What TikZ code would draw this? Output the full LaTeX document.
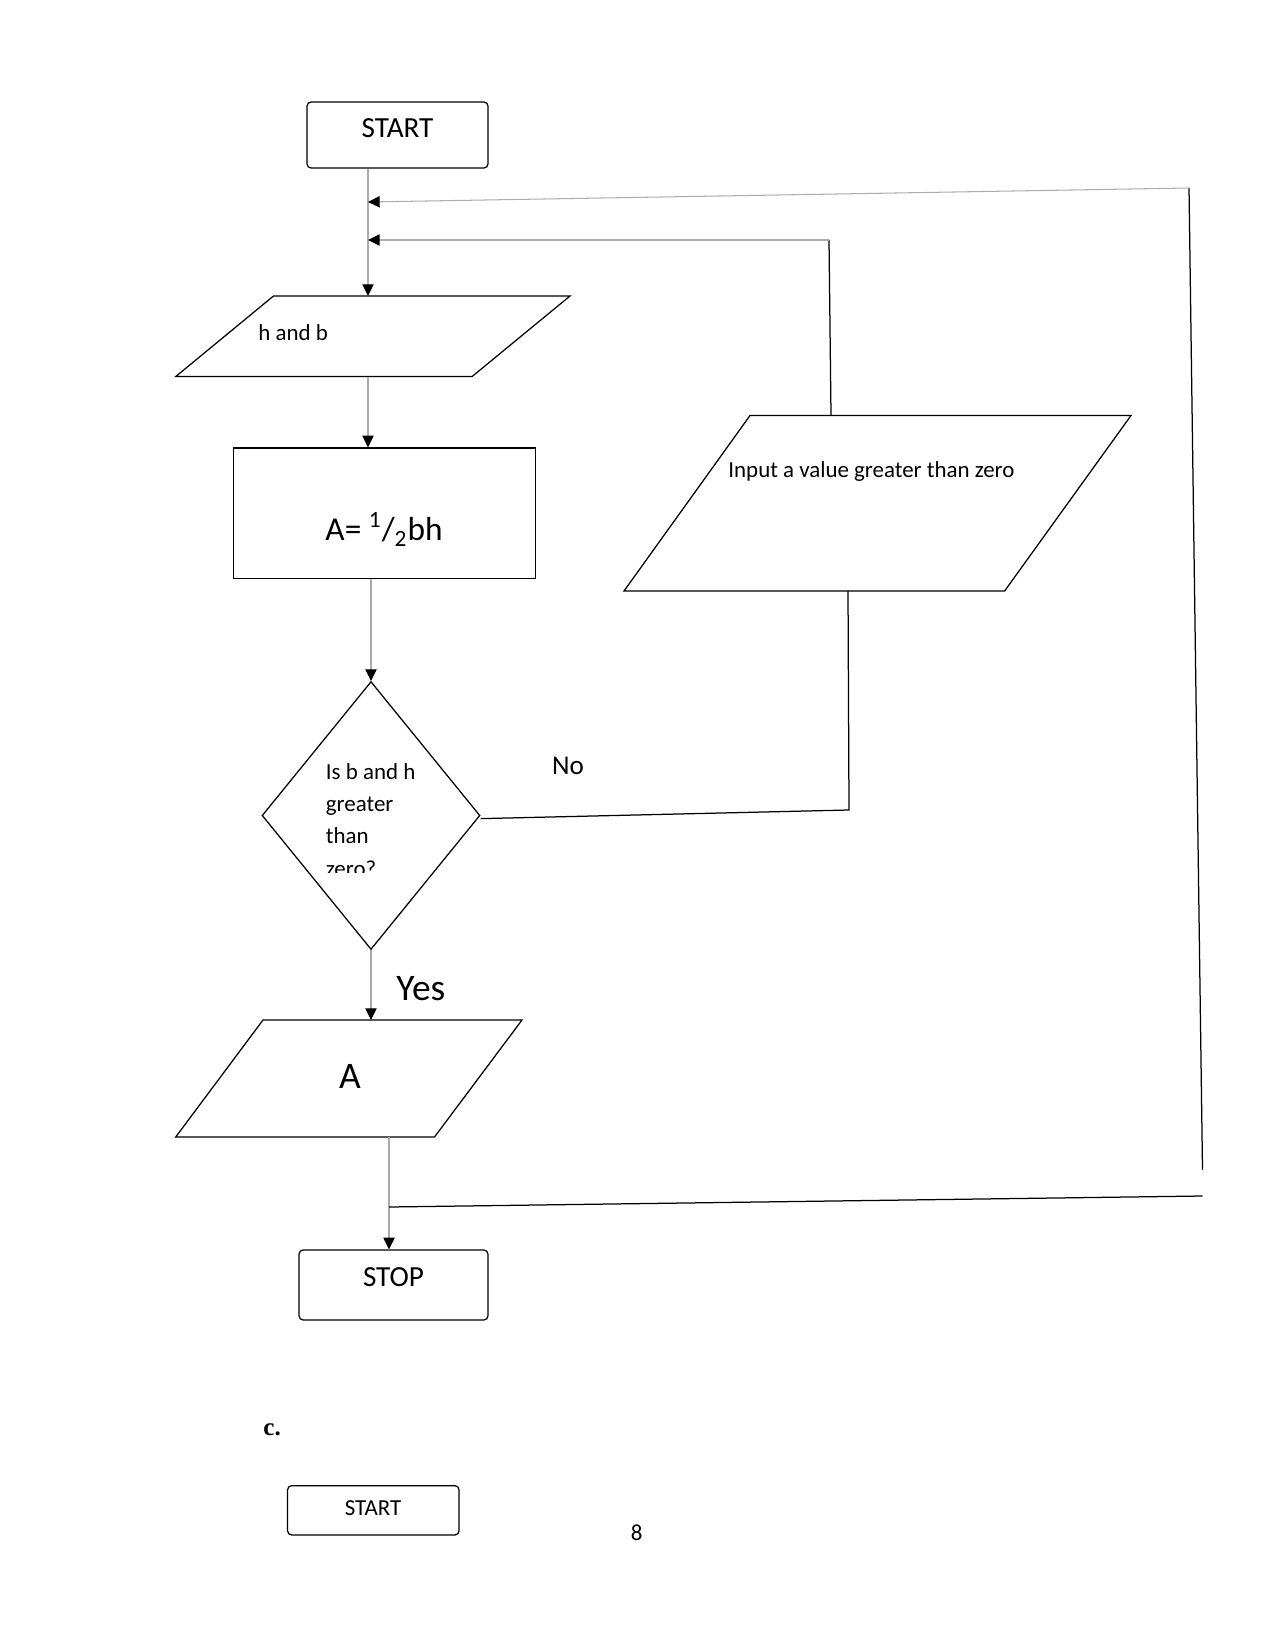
\documentclass[tikz,border=0pt]{standalone}
\usepackage{fontspec}
\setmainfont{Carlito}
\newfontfamily\headfont{Liberation Serif}
\usetikzlibrary{arrows.meta, shapes.geometric}
\newcommand\txtsmall{\fontsize{11}{13}\selectfont}
\newcommand\txtmid{\fontsize{13}{15}\selectfont}
\newcommand\txtbig{\fontsize{14}{17}\selectfont}
\newcommand\txtcalc{\fontsize{16}{19}\selectfont}
\newcommand\txthuge{\fontsize{18}{22}\selectfont}
\tikzset{term/.style={draw, rounded corners=2pt, line width=0.6pt, inner sep=0pt},
         proc/.style={draw, line width=0.6pt, inner sep=0pt},
         io/.style={draw, line width=0.6pt},
         lefttext/.style={anchor=west, inner sep=0pt},
         flow/.style={draw=gray!65, line width=0.5pt, -{Triangle[length=5.6pt, width=5.4pt, color=black]}},
         wire/.style={draw=black, line width=0.6pt}
}

\begin{document}
\begin{tikzpicture}[x=0.48pt, y=-0.48pt]
  \useasboundingbox (0,0) rectangle (1275,1650);
  % start
  \node[term, minimum width=86.9pt, minimum height=31.7pt] (start) at (397.5,135) {};
  \node[font=\txtbig] (startTxt) at (397.5,128) {START};
  % input h and b
  \draw[io] (273.5,296) -- (570,296) -- (472,376.6) -- (175.7,376.6) -- cycle;
  \coordinate (hb-in) at (368,296);
  \coordinate (hb-out) at (368,376.6);
  \node[lefttext, font=\txtsmall] (hbTxt) at (258,333) {h and b};
  % area
  \node[proc, minimum width=145pt, minimum height=62.7pt] (calc) at (384.5,513.3) {};
  \node[font=\txtcalc] (calcTxt) at (384,529.5) {A= \textsuperscript{1}/\textsubscript{2}bh};
  % decision
  \node[diamond, draw, line width=0.6pt, inner sep=0pt, minimum width=104.6pt, minimum height=128.6pt] (dec) at (371,815.5) {};
  \begin{scope}
    \clip (300,700) rectangle (470,872);
    \node[lefttext, align=left, font=\fontsize{11}{15.4}\selectfont] (decTxt) at (325.5,820) {Is b and h\\greater\\than\\zero?};
  \end{scope}
  % ask again
  \draw[io] (750,415.5) -- (1131,415.5) -- (1004.6,591) -- (624,591) -- cycle;
  \coordinate (inp-n) at (831,415.5);
  \coordinate (inp-s) at (848,591);
  \node[lefttext, font=\txtsmall] (inpTxt) at (728,472) {Input a value greater than zero};
  % output A
  \draw[io] (263,1020) -- (522,1020) -- (434.5,1137) -- (175.7,1137) -- cycle;
  \coordinate (out-n) at (371,1020);
  \coordinate (out-s) at (389,1137);
  \node[font=\txthuge] (outTxt) at (350,1076) {A};
  % stop
  \node[term, minimum width=90.7pt, minimum height=33.6pt] (stop) at (393.5,1285) {};
  \node[font=\txtbig] (stopTxt) at (393.5,1277) {STOP};
  \node[lefttext, font=\txthuge] (yes) at (396,989) {Yes};
  \node[lefttext, font=\txtmid] (no) at (551.7,765.7) {No};

  \draw[flow] (start.south -| hb-in) -- (hb-in);
  \draw[flow] (hb-out) -- (hb-out |- calc.north);
  \draw[flow] (calc.south -| dec.north) -- (dec.north);
  \draw[flow] (dec.south) -- (out-n);
  \draw[flow] (out-s) -- (out-s |- stop.north);
  % no branch
  \coordinate (no-c) at (849,810);
  \draw[wire] ([yshift=-1.5pt]dec.east) -- (no-c) -- (inp-s);
  \coordinate (back-c) at (829,240);
  \coordinate (back-in) at (368,240);
  \draw[wire] (inp-n) -- (back-c);
  \draw[flow] (back-c) -- (back-in);
  % outer loop
  \coordinate (join) at (389,1207);
  \coordinate (loop-se) at (1202.5,1196);
  \coordinate (loop-s) at (1202.5,1170);
  \coordinate (loop-ne) at (1189,188);
  \coordinate (loop-in) at (368,202);
  \draw[wire] (join) -- (loop-se);
  \draw[wire] (loop-s) -- (loop-ne);
  \draw[flow] (loop-ne) -- (loop-in);

  % part c
  \node[lefttext, font=\headfont\bfseries\fontsize{12}{14}\selectfont] (partC) at (263,1430) {c.};
  \node[term, minimum width=82.3pt, minimum height=23.7pt] (start2) at (373.3,1510.3) {};
  \node[font=\txtsmall] (start2Txt) at (373,1508.3) {START};
  \node[font=\txtsmall] (pageNo) at (636.7,1533) {8};
\end{tikzpicture}
\end{document}
